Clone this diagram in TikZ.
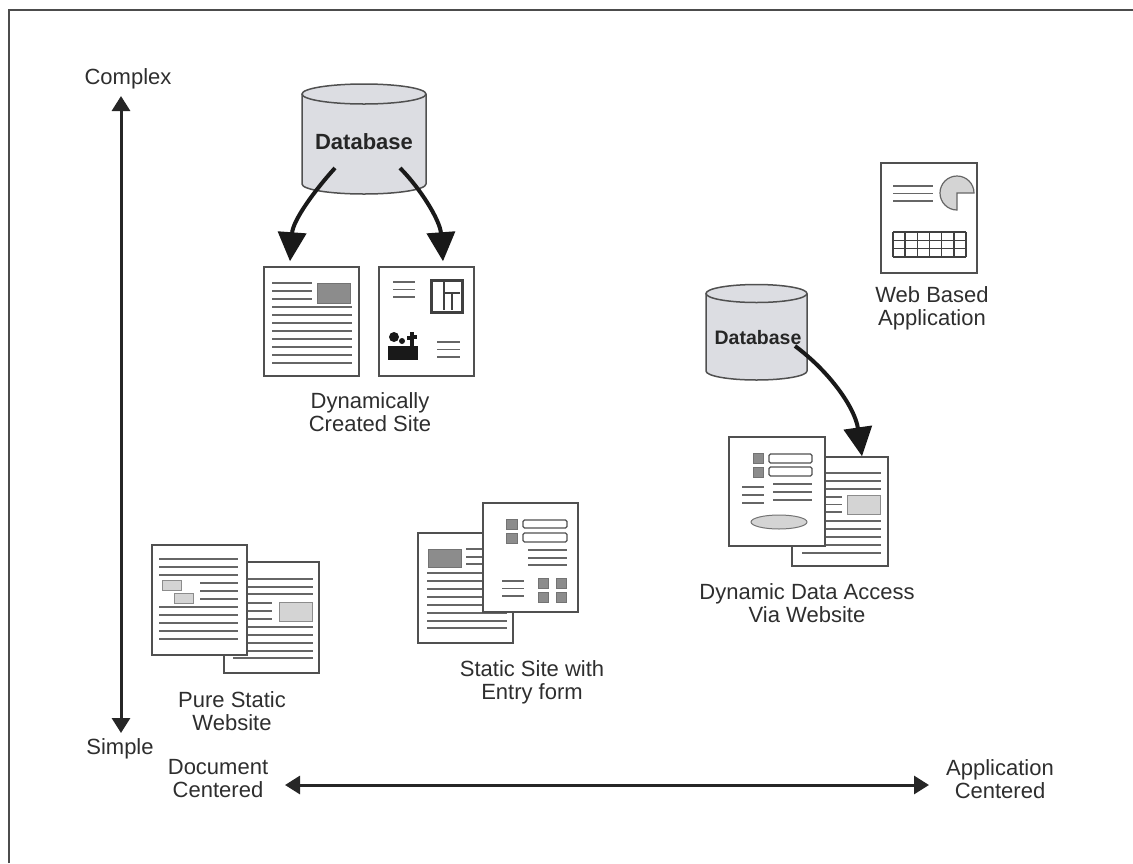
\documentclass[tikz,border=0pt]{standalone}
\usepackage{fontspec}
\setmainfont{Liberation Sans}
\usetikzlibrary{arrows.meta}
\definecolor{ink}{HTML}{2E2E2E}
\definecolor{pageedge}{HTML}{505050}
\definecolor{rule}{HTML}{666666}
\definecolor{dbfill}{HTML}{DCDDE2}
\definecolor{boxdark}{HTML}{8C8C8C}
\definecolor{boxlight}{HTML}{D4D4D4}

% cylinder: centre x, x radius, top y, bottom y, y radius
\newcommand\dbcylinder[5]{%
  \fill[dbfill] ({#1-#2},#3) -- ({#1-#2},#4)
    arc[start angle=180,end angle=0,x radius=#2,y radius=#5] -- ({#1+#2},#3) -- cycle;
  \draw[cyl] ({#1-#2},#3) -- ({#1-#2},#4)
    arc[start angle=180,end angle=0,x radius=#2,y radius=#5] -- ({#1+#2},#3);
  \draw[cyl] (#1,#3) ellipse[x radius=#2,y radius=#5];
}

\begin{document}
\begin{tikzpicture}[x=1pt,y=-1pt,
  lbl/.style={text=ink, font=\fontsize{22}{23}\selectfont, align=center, inner sep=0pt},
  dblbl/.style={text=black!85, font=\bfseries\fontsize{22}{24}\selectfont, inner sep=0pt},
  sheet/.style={draw=pageedge, line width=1.5pt, fill=white, inner sep=0pt},
  txt/.style={draw=rule, line width=1.4pt},
  cyl/.style={draw=pageedge, line width=1.5pt, fill=dbfill},
  darkbox/.style={fill=boxdark, draw=black!55, line width=1pt},
  lightbox/.style={fill=boxlight, draw=black!45, line width=1pt},
  field/.style={draw=pageedge, line width=1.2pt, rounded corners=1.5pt, fill=white},
  axisarrow/.style={line width=3pt, draw=black!85,
    {Triangle[length=15pt,width=18pt]}-{Triangle[length=15pt,width=18pt]}},
  feed/.style={line width=4pt, draw=black!90, -{Triangle[length=29pt,width=28pt]}},
]
\useasboundingbox (0,0) rectangle (1133,863);

% outer frame
\draw[line width=2pt, draw=black!70] (9,863) -- (9,10) -- (1133,10);

% ---------- axes ----------
\coordinate (vtop) at (121,96);
\coordinate (vbot) at (121,733);
\coordinate (hleft) at (285,785);
\coordinate (hright) at (929,785);
\draw[axisarrow] (vtop) -- (vbot);
\draw[axisarrow] (hleft) -- (hright);
\node[lbl] (complex) at (128,79) {Complex};
\node[lbl] (simple) at (120,749) {Simple};
\node[lbl] (doc) at (218,779) {Document\\Centered};
\node[lbl] (app) at (1000,779) {Application\\Centered};

% ---------- dynamically created site ----------
\dbcylinder{364}{62}{94}{184}{10}
\node[dblbl] (db1) at (364,142) {Database};

\node[sheet, minimum width=95pt, minimum height=109pt] (p1) at (311.5,321.5) {};
\draw[darkbox] (317,283) rectangle (350,303);
\foreach \y in {283,291,299} \draw[txt] (272,\y) -- (312,\y);
\foreach \y in {307,315,323,331,339,347,355,363} \draw[txt] (272,\y) -- (352,\y);

\node[sheet, minimum width=95pt, minimum height=109pt] (p2) at (426.5,321.5) {};
\foreach \y in {282,289.5,297} \draw[txt] (393,\y) -- (415,\y);
\foreach \y in {342,349.5,357} \draw[txt] (437,\y) -- (460,\y);
% framed picture
\draw[line width=3pt, draw=black!75] (431,280) rectangle (462,312);
\draw[line width=1.6pt, draw=black!75] (444,282) -- (444,310)
  (444,293) -- (460,293) (452,293) -- (452,310);
% desk with figure and plant
\fill[black!90] (388,346) rectangle (418,360);
\fill[black!90] (394,337) circle[radius=5];
\fill[black!90] (402,341) circle[radius=3];
\fill[black!90] (410,332) rectangle (414,346);
\fill[black!90] (407,336) rectangle (410,340);
\fill[black!90] (414,335) rectangle (417,339);

\draw[feed] ([shift={(-29,26)}]db1.center) .. controls (315,190) and (293,220) .. ([shift={(-21.5,-5)}]p1.north);
\draw[feed] ([shift={(36,26)}]db1.center) .. controls (420,188) and (440,220) .. ([shift={(16.5,-5)}]p2.north);

\node[lbl] (dyn) at (370,412) {Dynamically\\Created Site};

% ---------- web based application ----------
\node[sheet, minimum width=96pt, minimum height=110pt] (p5) at (929,218) {};
\foreach \y in {186,193.5,201} \draw[txt] (893,\y) -- (933,\y);
\filldraw[fill=boxlight, draw=black!60, line width=1.2pt]
  (957,193) -- ++(17,0) arc[start angle=0,end angle=-270,radius=17] -- cycle;
\foreach \i in {0,...,6} \draw[line width=1.6pt, draw=black!75] ({893+12.17*\i},232) -- ({893+12.17*\i},257);
\foreach \j in {0,...,3} \draw[line width=1.6pt, draw=black!75] (893,{232+8.33*\j}) -- (966,{232+8.33*\j});

\node[lbl] (web) at (932,308) {Web Based\\Application};

% ---------- dynamic data access ----------
\dbcylinder{756.5}{50.5}{293.5}{371}{9}
\node[dblbl, font=\bfseries\fontsize{19.5}{22}\selectfont] (db2) at (758,338) {Database};

\node[sheet, minimum width=96pt, minimum height=109pt] (p4) at (840,511.5) {};
\foreach \y in {473,481,489} \draw[txt] (825,\y) -- (881,\y);
\foreach \y in {497,504.5,512} \draw[txt] (825,\y) -- (842,\y);
\draw[lightbox] (847,495) rectangle (880,514);
\foreach \y in {521,529,537,545} \draw[txt] (825,\y) -- (881,\y);
\draw[txt] (802,553) -- (881,553);

\node[sheet, minimum width=96pt, minimum height=109pt] (p3) at (777,491.5) {};
\draw[darkbox] (753,453) rectangle (763,463);
\draw[darkbox] (753,467) rectangle (763,477);
\draw[field] (769,454) rectangle (812,463);
\draw[field] (769,467) rectangle (812,476);
\foreach \y in {487,495,503} \draw[txt] (742,\y) -- (764,\y);
\foreach \y in {484,492,500} \draw[txt] (773,\y) -- (812,\y);
\draw[lightbox, draw=black!55] (779,522) ellipse[x radius=28,y radius=7];

\draw[feed] ([shift={(37,8)}]db2.center) .. controls (830,372) and (855,408) .. ([shift={(22,0)}]p4.north);

\node[lbl] (dda) at (807,603) {Dynamic Data Access\\Via Website};

% ---------- pure static website ----------
\node[sheet, minimum width=95pt, minimum height=111pt] (p7) at (271.5,617.5) {};
\foreach \y in {579,587,594} \draw[txt] (247,\y) -- (313,\y);
\foreach \y in {603,611,619} \draw[txt] (247,\y) -- (272,\y);
\draw[lightbox] (279,602) rectangle (312,621);
\foreach \y in {627,635,643,651} \draw[txt] (247,\y) -- (313,\y);
\draw[txt] (233,658) -- (313,658);

\node[sheet, minimum width=95pt, minimum height=110pt] (p6) at (199.5,600) {};
\foreach \y in {559,567,575} \draw[txt] (159,\y) -- (238,\y);
\draw[lightbox] (162,580) rectangle (181,590);
\draw[lightbox] (174,593) rectangle (193,603);
\foreach \y in {583,591,599} \draw[txt] (200,\y) -- (238,\y);
\foreach \y in {607,615,623,631,639} \draw[txt] (159,\y) -- (238,\y);

\node[lbl] (pure) at (232,711) {Pure Static\\Website};

% ---------- static site with entry form ----------
\node[sheet, minimum width=95pt, minimum height=110pt] (p8) at (465.5,588) {};
\draw[darkbox] (428,549) rectangle (461,567);
\foreach \y in {549,557,564} \draw[txt] (466,\y) -- (483,\y);
\foreach \y in {573,581,589,597,605} \draw[txt] (427,\y) -- (483,\y);
\foreach \y in {613,621,628} \draw[txt] (427,\y) -- (507,\y);

\node[sheet, minimum width=95pt, minimum height=109pt] (p9) at (530.5,557.5) {};
\draw[darkbox] (506,519) rectangle (517,529);
\draw[darkbox] (506,533) rectangle (517,543);
\draw[field] (523,520) rectangle (567,528);
\draw[field] (523,533) rectangle (567,542);
\foreach \y in {550,558,565} \draw[txt] (528,\y) -- (567,\y);
\foreach \y in {581,588.5,596} \draw[txt] (502,\y) -- (524,\y);
\foreach \x/\y in {538/578,556/578,538/592,556/592}
  \draw[darkbox] (\x,\y) rectangle ++(10,10);

\node[lbl] (entry) at (532,682) {Static Site with\\Entry form};

\end{tikzpicture}
\end{document}
